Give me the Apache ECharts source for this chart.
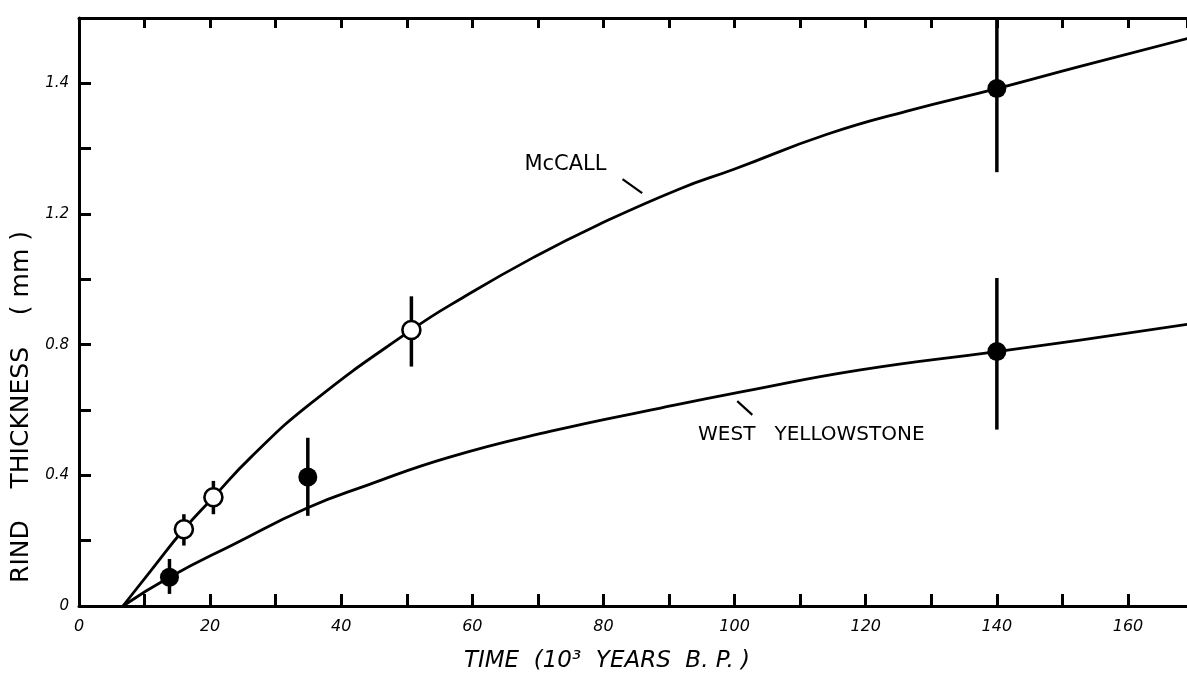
<!DOCTYPE html>
<html>
<head>
<meta charset="utf-8">
<script src="https://cdn.jsdelivr.net/npm/echarts@6/dist/echarts.min.js"></script>
<style>html,body{margin:0;padding:0;background:#fff}#c{width:1187px;height:678px}</style>
</head>
<body>
<div id="c"></div>
<script>
// ---- data ----
const xTickLabels = ['0', '20', '40', '60', '80', '100', '120', '140', '160'];
const yTickValues = [0, 0.4, 0.8, 1.2, 1.6];
const yTickTexts = ['0', '0.4', '0.8', '1.2', '1.4'];

const mcCallCurve = [
  [6.7, 0], [11, 0.109], [16, 0.235], [20.5, 0.333], [26.2, 0.455], [35.4, 0.621],
  [50.7, 0.845], [58.7, 0.946], [69.4, 1.068], [79, 1.165], [91.5, 1.276],
  [99.9, 1.337], [114.1, 1.444], [126.3, 1.515], [140, 1.584], [152.7, 1.652], [170, 1.742]
];
const westYellowstoneCurve = [
  [6.7, 0], [13.8, 0.088], [23.7, 0.19], [34.8, 0.30], [44, 0.37], [56.4, 0.455],
  [72, 0.535], [88.7, 0.606], [101.4, 0.657], [119.2, 0.723], [140, 0.779],
  [152.7, 0.814], [170, 0.865]
];
// [x, y]
const openPoints = [[16.0, 0.235], [20.5, 0.333], [50.7, 0.845]];
const filledPoints = [[13.8, 0.088], [34.9, 0.395], [140, 1.584], [140, 0.779]];
// [x, low, high]
const errorBars = [
  [16.0, 0.185, 0.281], [20.5, 0.281, 0.383], [50.7, 0.733, 0.948],
  [13.8, 0.037, 0.144], [34.9, 0.276, 0.515], [140, 1.328, 1.85], [140, 0.540, 1.004]
];
// annotation labels [x, y, text] and leader lines [x1, y1, x2, y2]
const curveLabels = [[74.2, 1.352, 'McCALL'], [111.7, 0.524, 'WEST   YELLOWSTONE']];
const leaderLines = [[82.9, 1.307, 85.9, 1.264], [100.4, 0.627, 102.7, 0.585]];

const xAxisName = 'TIME  (10³  YEARS  B. P. )';
const yAxisName = 'RIND    THICKNESS    ( mm )';

// ---- chart ----
const chart = echarts.init(document.getElementById('c'), null, {renderer: 'canvas'});
const FONT = 'DejaVu Sans';
const axisLineStyle = {color: '#000', width: 3};

chart.setOption({
  animation: false,
  backgroundColor: '#fff',
  grid: {left: 79, right: 0, top: 18, bottom: 69, containLabel: false},
  xAxis: [{
    type: 'value', min: 0, max: 169, interval: 10, position: 'bottom',
    axisLine: {show: true, lineStyle: axisLineStyle, onZero: false},
    axisTick: {show: true, inside: true, length: 12, lineStyle: {color: '#000', width: 3}},
    splitLine: {show: false},
    axisLabel: {
      color: '#000', fontFamily: FONT, fontStyle: 'italic', fontSize: 16, margin: 13,
      showMaxLabel: false,
      formatter: v => xTickLabels.indexOf(String(Math.round(v))) >= 0 ? String(Math.round(v)) : ''
    },
    name: xAxisName, nameLocation: 'middle', nameGap: 44,
    nameTextStyle: {color: '#000', fontFamily: FONT, fontSize: 23, fontStyle: 'italic', padding: [0, 52, 0, 0]}
  }, {
    type: 'value', min: 0, max: 169, interval: 10, position: 'top',
    axisLine: {show: true, lineStyle: axisLineStyle, onZero: false},
    axisTick: {show: true, inside: true, length: 10, lineStyle: {color: '#000', width: 3}},
    axisLabel: {show: false}, splitLine: {show: false}
  }],
  yAxis: [{
    type: 'value', min: 0, max: 1.8, interval: 0.2, position: 'left',
    axisLine: {show: true, lineStyle: axisLineStyle, onZero: false},
    axisTick: {show: true, inside: true, length: 12, lineStyle: {color: '#000', width: 3}},
    splitLine: {show: false},
    axisLabel: {
      color: '#000', fontFamily: FONT, fontStyle: 'italic', fontSize: 15, margin: 10,
      formatter: v => {
        const i = yTickValues.findIndex(t => Math.abs(t - v) < 1e-6);
        return i >= 0 ? yTickTexts[i] : '';
      }
    },
    name: yAxisName, nameLocation: 'middle', nameGap: 45, nameRotate: 90,
    nameTextStyle: {color: '#000', fontFamily: FONT, fontSize: 25, padding: [0, 190, 0, 0]}
  }],
  series: [
    {
      type: 'line', name: 'McCall', data: mcCallCurve, smooth: 0.5, showSymbol: false,
      lineStyle: {color: '#000', width: 2.8}, clip: true, z: 2
    },
    {
      type: 'line', name: 'West Yellowstone', data: westYellowstoneCurve, smooth: 0.5, showSymbol: false,
      lineStyle: {color: '#000', width: 2.8}, clip: true, z: 2
    },
    {
      type: 'custom', name: 'error bars', data: errorBars, clip: true, z: 3,
      renderItem: (params, api) => {
        const p1 = api.coord([api.value(0), api.value(1)]);
        const p2 = api.coord([api.value(0), api.value(2)]);
        return {type: 'line', shape: {x1: p1[0], y1: p1[1], x2: p2[0], y2: p2[1]},
          style: {stroke: '#000', lineWidth: 3.5}};
      }
    },
    {
      type: 'scatter', name: 'open', data: openPoints, symbol: 'circle', symbolSize: 18, z: 5,
      itemStyle: {color: '#fff', borderColor: '#000', borderWidth: 2.6, opacity: 1}
    },
    {
      type: 'scatter', name: 'filled', data: filledPoints, symbol: 'circle', symbolSize: 19, z: 5,
      itemStyle: {color: '#000', opacity: 1}
    },
    {
      type: 'custom', name: 'leaders', data: leaderLines, z: 3,
      renderItem: (params, api) => {
        const p1 = api.coord([api.value(0), api.value(1)]);
        const p2 = api.coord([api.value(2), api.value(3)]);
        return {type: 'line', shape: {x1: p1[0], y1: p1[1], x2: p2[0], y2: p2[1]},
          style: {stroke: '#000', lineWidth: 2.2}};
      }
    },
    {
      type: 'custom', name: 'labels', data: curveLabels, z: 4,
      renderItem: (params, api) => {
        const p = api.coord([api.value(0), api.value(1)]);
        const sz = params.dataIndex === 0 ? 21 : 20;
        return {type: 'text', x: p[0], y: p[1],
          style: {text: curveLabels[params.dataIndex][2], fill: '#000', font: sz + 'px "DejaVu Sans"',
            textAlign: 'center', textVerticalAlign: 'middle'}};
      }
    }
  ]
});
</script>
</body>
</html>
